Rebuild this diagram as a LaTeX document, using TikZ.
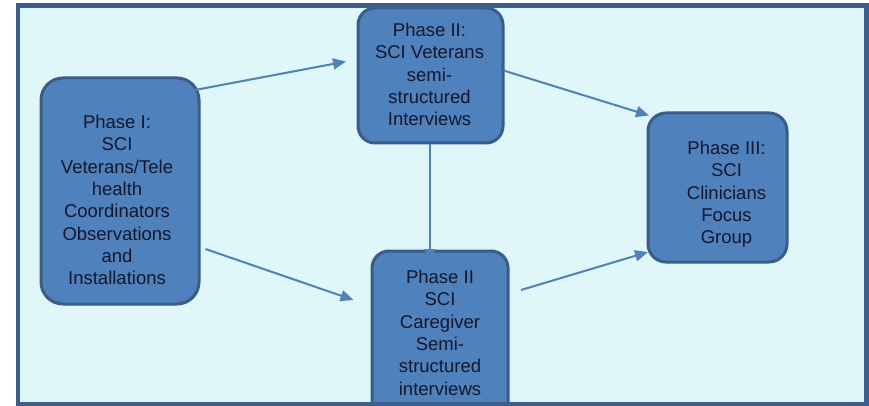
\documentclass[tikz,border=0pt]{standalone}
\usepackage{fontspec}
\setmainfont{Liberation Sans}
\usetikzlibrary{arrows.meta}
\definecolor{bgc}{HTML}{E0F7F9}
\definecolor{framec}{HTML}{3B5E8C}
\definecolor{boxfill}{HTML}{4F81BD}
\definecolor{boxline}{HTML}{385D8A}
\definecolor{txtc}{HTML}{15172A}
\tikzset{
  phasebox/.style={draw=boxline, line width=3pt, fill=boxfill, inner sep=0pt},
  phasetext/.style={anchor=north, inner sep=0pt, align=center, text=txtc,
    font=\fontsize{18.5}{22.3}\selectfont},
  link/.style={draw=boxfill, line width=2pt, -{Triangle[length=13pt,width=11pt]}}
}
\begin{document}
\begin{tikzpicture}[x=1pt,y=-1pt]
\useasboundingbox (0,0) rectangle (869,406);
\fill[bgc] (18,5) rectangle (867,404);
% boxes
\path[phasebox, rounded corners=22pt] (41,78) rectangle (199,304);
\node[inner sep=0pt, minimum width=158pt, minimum height=226pt] (p1) at (120,191) {};
\path[phasebox, rounded corners=17pt] (358,8) rectangle (503,143);
\node[inner sep=0pt, minimum width=145pt, minimum height=135pt] (p2) at (430.5,75.5) {};
\path[phasebox, rounded corners=17pt] (372,251) rectangle (508,420);
\node[inner sep=0pt, minimum width=136pt, minimum height=169pt] (p3) at (440,335.5) {};
\path[phasebox, rounded corners=18pt] (648,113) rectangle (787,262);
\node[inner sep=0pt, minimum width=139pt, minimum height=149pt] (p4) at (717.5,187.5) {};
% texts
\node[phasetext] (t1) at (117,115) {Phase I:\\SCI\\Veterans/Tele\\health\\Coordinators\\Observations\\and\\Installations};
\node[phasetext] (t2) at (429.5,23) {Phase II:\\SCI Veterans\\semi-\\structured\\Interviews};
\node[phasetext] (t3) at (440,270) {Phase II\\SCI\\Caregiver\\Semi-\\structured\\interviews};
\node[phasetext] (t4) at (726.5,141) {Phase III:\\SCI\\Clinicians\\Focus\\Group};
% connector end points
\coordinate (a1s) at (195,90);   \coordinate (a1e) at (346,61.5);
\coordinate (a2s) at (205.5,249); \coordinate (a2e) at (353.5,300);
\coordinate (a3s) at (503.5,70.5); \coordinate (a3e) at (649,115.5);
\coordinate (a4s) at (521,290);  \coordinate (a4e) at (648,252);
\coordinate (a5s) at (430,144);  \coordinate (a5e) at (430,262);
\draw[link] (a1s) -- (a1e);
\draw[link] (a2s) -- (a2e);
\draw[link] (a3s) -- (a3e);
\draw[link] (a4s) -- (a4e);
\draw[link] (a5s) -- (a5e);
% frame
\draw[framec, line width=4.5pt] (18,5.5) rectangle (866.5,404);
\end{tikzpicture}
\end{document}
